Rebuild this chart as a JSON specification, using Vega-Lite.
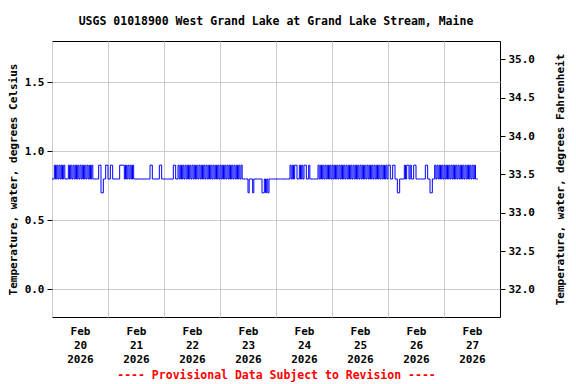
{
 "$schema": "https://vega.github.io/schema/vega-lite/v6.json",
 "width": 448,
 "height": 276,
 "autosize": {"type": "none"},
 "padding": {"left": 52, "top": 41, "right": 76, "bottom": 67},
 "title": {"text": "USGS 01018900 West Grand Lake at Grand Lake Stream, Maine", "font": "DejaVu Sans Mono", "fontSize": 11.5, "fontWeight": "bold", "anchor": "middle", "offset": 14, "color": "black", "frame": "group"},
 "config": {
  "view": {"stroke": "black", "strokeWidth": 1},
  "axis": {"labelFont": "DejaVu Sans Mono", "labelFontWeight": "bold", "labelFontSize": 11, "labelColor": "black", "titleFont": "DejaVu Sans Mono", "titleFontWeight": "bold", "titleFontSize": 11, "titleColor": "black", "gridColor": "#cccccc", "gridWidth": 1, "domain": false, "tickColor": "black"}
 },
 "data": {"values": [
  {"t":"2026-02-20T00:00","v":0.8},{"t":"2026-02-20T01:00","v":0.9},{"t":"2026-02-20T01:30","v":0.8},{"t":"2026-02-20T02:00","v":0.9},{"t":"2026-02-20T02:30","v":0.8},{"t":"2026-02-20T03:00","v":0.9},{"t":"2026-02-20T03:30","v":0.8},{"t":"2026-02-20T04:00","v":0.9},{"t":"2026-02-20T04:30","v":0.8},{"t":"2026-02-20T05:00","v":0.9},{"t":"2026-02-20T05:30","v":0.8},{"t":"2026-02-20T06:00","v":0.8},
  {"t":"2026-02-20T07:00","v":0.9},{"t":"2026-02-20T07:30","v":0.8},{"t":"2026-02-20T08:00","v":0.9},{"t":"2026-02-20T08:30","v":0.8},{"t":"2026-02-20T09:00","v":0.9},{"t":"2026-02-20T09:30","v":0.8},{"t":"2026-02-20T10:00","v":0.9},{"t":"2026-02-20T10:30","v":0.8},{"t":"2026-02-20T11:00","v":0.9},{"t":"2026-02-20T11:30","v":0.8},{"t":"2026-02-20T12:00","v":0.9},{"t":"2026-02-20T12:30","v":0.8},{"t":"2026-02-20T13:00","v":0.9},{"t":"2026-02-20T13:30","v":0.8},{"t":"2026-02-20T14:00","v":0.9},{"t":"2026-02-20T14:30","v":0.8},{"t":"2026-02-20T15:00","v":0.9},{"t":"2026-02-20T15:30","v":0.8},{"t":"2026-02-20T16:00","v":0.9},{"t":"2026-02-20T16:30","v":0.8},{"t":"2026-02-20T17:00","v":0.9},{"t":"2026-02-20T17:30","v":0.8},
  {"t":"2026-02-20T18:00","v":0.8},{"t":"2026-02-20T19:00","v":0.8},{"t":"2026-02-20T20:00","v":0.9},{"t":"2026-02-20T21:00","v":0.7},{"t":"2026-02-20T22:00","v":0.8},{"t":"2026-02-20T23:00","v":0.9},
  {"t":"2026-02-21T00:00","v":0.8},{"t":"2026-02-21T01:00","v":0.9},{"t":"2026-02-21T02:00","v":0.8},{"t":"2026-02-21T03:00","v":0.8},{"t":"2026-02-21T04:00","v":0.8},{"t":"2026-02-21T05:00","v":0.9},{"t":"2026-02-21T07:00","v":0.8},{"t":"2026-02-21T07:30","v":0.9},{"t":"2026-02-21T08:00","v":0.8},{"t":"2026-02-21T08:30","v":0.9},{"t":"2026-02-21T09:00","v":0.8},{"t":"2026-02-21T09:30","v":0.9},{"t":"2026-02-21T10:00","v":0.8},{"t":"2026-02-21T10:30","v":0.9},{"t":"2026-02-21T11:00","v":0.8},{"t":"2026-02-21T12:00","v":0.8},{"t":"2026-02-21T13:00","v":0.8},{"t":"2026-02-21T14:00","v":0.8},{"t":"2026-02-21T15:00","v":0.8},{"t":"2026-02-21T16:00","v":0.8},{"t":"2026-02-21T17:00","v":0.8},{"t":"2026-02-21T18:00","v":0.9},{"t":"2026-02-21T19:00","v":0.8},{"t":"2026-02-21T20:00","v":0.8},{"t":"2026-02-21T21:00","v":0.8},{"t":"2026-02-21T22:00","v":0.9},{"t":"2026-02-21T23:00","v":0.8},
  {"t":"2026-02-22T00:00","v":0.8},{"t":"2026-02-22T01:00","v":0.8},{"t":"2026-02-22T02:00","v":0.8},{"t":"2026-02-22T03:00","v":0.8},{"t":"2026-02-22T04:00","v":0.9},{"t":"2026-02-22T05:00","v":0.8},{"t":"2026-02-22T06:00","v":0.9},{"t":"2026-02-22T06:30","v":0.8},{"t":"2026-02-22T07:00","v":0.9},{"t":"2026-02-22T07:30","v":0.8},{"t":"2026-02-22T08:00","v":0.9},{"t":"2026-02-22T08:30","v":0.8},{"t":"2026-02-22T09:00","v":0.9},{"t":"2026-02-22T09:30","v":0.8},{"t":"2026-02-22T10:00","v":0.9},{"t":"2026-02-22T10:30","v":0.8},{"t":"2026-02-22T11:00","v":0.9},{"t":"2026-02-22T11:30","v":0.8},{"t":"2026-02-22T12:00","v":0.9},{"t":"2026-02-22T12:30","v":0.8},{"t":"2026-02-22T13:00","v":0.9},{"t":"2026-02-22T13:30","v":0.8},{"t":"2026-02-22T14:00","v":0.9},{"t":"2026-02-22T14:30","v":0.8},{"t":"2026-02-22T15:00","v":0.9},{"t":"2026-02-22T15:30","v":0.8},{"t":"2026-02-22T16:00","v":0.9},{"t":"2026-02-22T16:30","v":0.8},{"t":"2026-02-22T17:00","v":0.9},{"t":"2026-02-22T17:30","v":0.8},{"t":"2026-02-22T18:00","v":0.9},{"t":"2026-02-22T18:30","v":0.8},{"t":"2026-02-22T19:00","v":0.9},{"t":"2026-02-22T19:30","v":0.8},{"t":"2026-02-22T20:00","v":0.9},{"t":"2026-02-22T20:30","v":0.8},{"t":"2026-02-22T21:00","v":0.9},{"t":"2026-02-22T21:30","v":0.8},{"t":"2026-02-22T22:00","v":0.9},{"t":"2026-02-22T22:30","v":0.8},{"t":"2026-02-22T23:00","v":0.9},{"t":"2026-02-22T23:30","v":0.8},
  {"t":"2026-02-23T00:00","v":0.9},{"t":"2026-02-23T00:30","v":0.8},{"t":"2026-02-23T01:00","v":0.9},{"t":"2026-02-23T01:30","v":0.8},{"t":"2026-02-23T02:00","v":0.9},{"t":"2026-02-23T02:30","v":0.8},{"t":"2026-02-23T03:00","v":0.9},{"t":"2026-02-23T03:30","v":0.8},{"t":"2026-02-23T04:00","v":0.9},{"t":"2026-02-23T04:30","v":0.8},{"t":"2026-02-23T05:00","v":0.9},{"t":"2026-02-23T05:30","v":0.8},{"t":"2026-02-23T06:00","v":0.9},{"t":"2026-02-23T06:30","v":0.8},{"t":"2026-02-23T07:00","v":0.9},{"t":"2026-02-23T07:30","v":0.8},{"t":"2026-02-23T08:00","v":0.9},{"t":"2026-02-23T08:30","v":0.8},{"t":"2026-02-23T09:00","v":0.9},{"t":"2026-02-23T09:30","v":0.8},
  {"t":"2026-02-23T10:00","v":0.8},{"t":"2026-02-23T11:00","v":0.8},{"t":"2026-02-23T12:00","v":0.7},{"t":"2026-02-23T12:30","v":0.8},{"t":"2026-02-23T14:00","v":0.7},{"t":"2026-02-23T14:30","v":0.8},{"t":"2026-02-23T15:00","v":0.8},{"t":"2026-02-23T16:00","v":0.8},{"t":"2026-02-23T17:00","v":0.8},{"t":"2026-02-23T18:00","v":0.7},{"t":"2026-02-23T19:00","v":0.8},{"t":"2026-02-23T19:30","v":0.7},{"t":"2026-02-23T20:00","v":0.8},{"t":"2026-02-23T20:30","v":0.7},{"t":"2026-02-23T21:00","v":0.8},{"t":"2026-02-23T22:00","v":0.8},{"t":"2026-02-23T23:00","v":0.8},
  {"t":"2026-02-24T00:00","v":0.8},{"t":"2026-02-24T01:00","v":0.8},{"t":"2026-02-24T02:00","v":0.8},{"t":"2026-02-24T03:00","v":0.8},{"t":"2026-02-24T04:00","v":0.8},{"t":"2026-02-24T05:00","v":0.8},{"t":"2026-02-24T06:00","v":0.9},{"t":"2026-02-24T06:30","v":0.8},{"t":"2026-02-24T07:00","v":0.9},{"t":"2026-02-24T07:30","v":0.8},{"t":"2026-02-24T08:00","v":0.9},{"t":"2026-02-24T09:00","v":0.8},{"t":"2026-02-24T10:00","v":0.9},{"t":"2026-02-24T10:30","v":0.8},{"t":"2026-02-24T11:00","v":0.9},{"t":"2026-02-24T11:30","v":0.8},{"t":"2026-02-24T12:00","v":0.9},{"t":"2026-02-24T13:00","v":0.8},{"t":"2026-02-24T14:00","v":0.9},{"t":"2026-02-24T14:30","v":0.8},{"t":"2026-02-24T15:00","v":0.8},{"t":"2026-02-24T16:00","v":0.8},{"t":"2026-02-24T17:00","v":0.8},
  {"t":"2026-02-24T18:00","v":0.9},{"t":"2026-02-24T18:30","v":0.8},{"t":"2026-02-24T19:00","v":0.9},{"t":"2026-02-24T19:30","v":0.8},{"t":"2026-02-24T20:00","v":0.9},{"t":"2026-02-24T20:30","v":0.8},{"t":"2026-02-24T21:00","v":0.9},{"t":"2026-02-24T21:30","v":0.8},{"t":"2026-02-24T22:00","v":0.9},{"t":"2026-02-24T22:30","v":0.8},{"t":"2026-02-24T23:00","v":0.9},{"t":"2026-02-24T23:30","v":0.8},
  {"t":"2026-02-25T00:00","v":0.9},{"t":"2026-02-25T00:30","v":0.8},{"t":"2026-02-25T01:00","v":0.9},{"t":"2026-02-25T01:30","v":0.8},{"t":"2026-02-25T02:00","v":0.9},{"t":"2026-02-25T02:30","v":0.8},{"t":"2026-02-25T03:00","v":0.9},{"t":"2026-02-25T03:30","v":0.8},{"t":"2026-02-25T04:00","v":0.9},{"t":"2026-02-25T04:30","v":0.8},{"t":"2026-02-25T05:00","v":0.9},{"t":"2026-02-25T05:30","v":0.8},{"t":"2026-02-25T06:00","v":0.9},{"t":"2026-02-25T06:30","v":0.8},{"t":"2026-02-25T07:00","v":0.9},{"t":"2026-02-25T07:30","v":0.8},{"t":"2026-02-25T08:00","v":0.9},{"t":"2026-02-25T08:30","v":0.8},{"t":"2026-02-25T09:00","v":0.9},{"t":"2026-02-25T09:30","v":0.8},{"t":"2026-02-25T10:00","v":0.9},{"t":"2026-02-25T10:30","v":0.8},{"t":"2026-02-25T11:00","v":0.9},{"t":"2026-02-25T11:30","v":0.8},{"t":"2026-02-25T12:00","v":0.9},{"t":"2026-02-25T12:30","v":0.8},{"t":"2026-02-25T13:00","v":0.9},{"t":"2026-02-25T13:30","v":0.8},{"t":"2026-02-25T14:00","v":0.9},{"t":"2026-02-25T14:30","v":0.8},{"t":"2026-02-25T15:00","v":0.9},{"t":"2026-02-25T15:30","v":0.8},{"t":"2026-02-25T16:00","v":0.9},{"t":"2026-02-25T16:30","v":0.8},{"t":"2026-02-25T17:00","v":0.9},{"t":"2026-02-25T17:30","v":0.8},{"t":"2026-02-25T18:00","v":0.9},{"t":"2026-02-25T18:30","v":0.8},{"t":"2026-02-25T19:00","v":0.9},{"t":"2026-02-25T19:30","v":0.8},{"t":"2026-02-25T20:00","v":0.9},{"t":"2026-02-25T20:30","v":0.8},{"t":"2026-02-25T21:00","v":0.9},{"t":"2026-02-25T21:30","v":0.8},{"t":"2026-02-25T22:00","v":0.9},{"t":"2026-02-25T22:30","v":0.8},{"t":"2026-02-25T23:00","v":0.9},{"t":"2026-02-25T23:30","v":0.8},
  {"t":"2026-02-26T00:00","v":0.9},{"t":"2026-02-26T01:00","v":0.8},{"t":"2026-02-26T02:00","v":0.9},{"t":"2026-02-26T03:00","v":0.8},{"t":"2026-02-26T04:00","v":0.7},{"t":"2026-02-26T05:00","v":0.8},{"t":"2026-02-26T06:00","v":0.8},{"t":"2026-02-26T07:00","v":0.9},{"t":"2026-02-26T07:30","v":0.8},{"t":"2026-02-26T08:00","v":0.9},{"t":"2026-02-26T09:00","v":0.8},{"t":"2026-02-26T09:30","v":0.9},{"t":"2026-02-26T10:00","v":0.8},{"t":"2026-02-26T11:00","v":0.9},{"t":"2026-02-26T12:00","v":0.8},{"t":"2026-02-26T13:00","v":0.8},{"t":"2026-02-26T14:00","v":0.8},{"t":"2026-02-26T15:00","v":0.8},{"t":"2026-02-26T16:00","v":0.9},{"t":"2026-02-26T17:00","v":0.8},{"t":"2026-02-26T18:00","v":0.7},{"t":"2026-02-26T19:00","v":0.8},{"t":"2026-02-26T20:00","v":0.9},{"t":"2026-02-26T20:30","v":0.8},{"t":"2026-02-26T21:00","v":0.9},{"t":"2026-02-26T21:30","v":0.8},{"t":"2026-02-26T22:00","v":0.9},{"t":"2026-02-26T22:30","v":0.8},{"t":"2026-02-26T23:00","v":0.9},{"t":"2026-02-26T23:30","v":0.8},
  {"t":"2026-02-27T00:00","v":0.9},{"t":"2026-02-27T00:30","v":0.8},{"t":"2026-02-27T01:00","v":0.9},{"t":"2026-02-27T01:30","v":0.8},{"t":"2026-02-27T02:00","v":0.9},{"t":"2026-02-27T02:30","v":0.8},{"t":"2026-02-27T03:00","v":0.9},{"t":"2026-02-27T03:30","v":0.8},{"t":"2026-02-27T04:00","v":0.9},{"t":"2026-02-27T04:30","v":0.8},{"t":"2026-02-27T05:00","v":0.9},{"t":"2026-02-27T05:30","v":0.8},{"t":"2026-02-27T06:00","v":0.9},{"t":"2026-02-27T06:30","v":0.8},{"t":"2026-02-27T07:00","v":0.9},{"t":"2026-02-27T07:30","v":0.8},{"t":"2026-02-27T08:00","v":0.9},{"t":"2026-02-27T08:30","v":0.8},{"t":"2026-02-27T09:00","v":0.9},{"t":"2026-02-27T09:30","v":0.8},{"t":"2026-02-27T10:00","v":0.9},{"t":"2026-02-27T10:30","v":0.8},{"t":"2026-02-27T11:00","v":0.9},{"t":"2026-02-27T11:30","v":0.8},{"t":"2026-02-27T12:00","v":0.9},{"t":"2026-02-27T12:30","v":0.8},{"t":"2026-02-27T13:00","v":0.9},{"t":"2026-02-27T13:30","v":0.8},{"t":"2026-02-27T14:00","v":0.8},{"t":"2026-02-27T14:30","v":0.8}
 ]},
 "layer": [
  {
   "mark": {"type": "line", "interpolate": "step-after", "color": "#0000ff", "strokeWidth": 1},
   "encoding": {
    "x": {"field": "t", "type": "temporal",
     "scale": {"domain": [{"year": 2026, "month": "feb", "date": 20}, {"year": 2026, "month": "feb", "date": 28}]},
     "axis": {"values": [{"year": 2026, "month": "feb", "date": 20}, {"year": 2026, "month": "feb", "date": 21}, {"year": 2026, "month": "feb", "date": 22}, {"year": 2026, "month": "feb", "date": 23}, {"year": 2026, "month": "feb", "date": 24}, {"year": 2026, "month": "feb", "date": 25}, {"year": 2026, "month": "feb", "date": 26}, {"year": 2026, "month": "feb", "date": 27}],
      "labelExpr": "[timeFormat(datum.value, '%b'), timeFormat(datum.value, '%d'), timeFormat(datum.value, '%Y')]",
      "labelOffset": 28, "labelAlign": "center", "labelBaseline": "top", "labelLineHeight": 14, "labelPadding": 8,
      "labelFlush": false, "labelOverlap": false, "labelBound": false,
      "ticks": false, "grid": true,
      "title": "---- Provisional Data Subject to Revision ----", "titleColor": "#ff0000", "titleFontSize": 11.5, "titlePadding": 5}},
    "y": {"field": "v", "type": "quantitative",
     "scale": {"domain": [-0.2, 1.8], "nice": false, "zero": false},
     "axis": {"orient": "left", "values": [0, 0.5, 1, 1.5], "format": ".1f", "grid": true, "tickSize": 5, "labelPadding": 3, "titlePadding": 6,
      "title": "Temperature, water, degrees Celsius"}}
   }
  },
  {
   "mark": {"type": "line", "interpolate": "step-after", "color": "#0000ff", "strokeWidth": 1, "opacity": 0},
   "encoding": {
    "x": {"field": "t", "type": "temporal"},
    "y": {"field": "v", "type": "quantitative",
     "scale": {"domain": [-0.2, 1.8], "nice": false, "zero": false},
     "axis": {"orient": "right", "values": [0, 0.277778, 0.555556, 0.833333, 1.111111, 1.388889, 1.666667],
      "labelExpr": "format(datum.value * 1.8 + 32, '.1f')", "grid": false, "tickSize": 5, "labelPadding": 3,
      "title": "Temperature, water, degrees Fahrenheit", "titleAngle": 270, "titleBaseline": "top", "titlePadding": 20}}
   }
  }
 ],
 "resolve": {"scale": {"y": "independent"}}
}
